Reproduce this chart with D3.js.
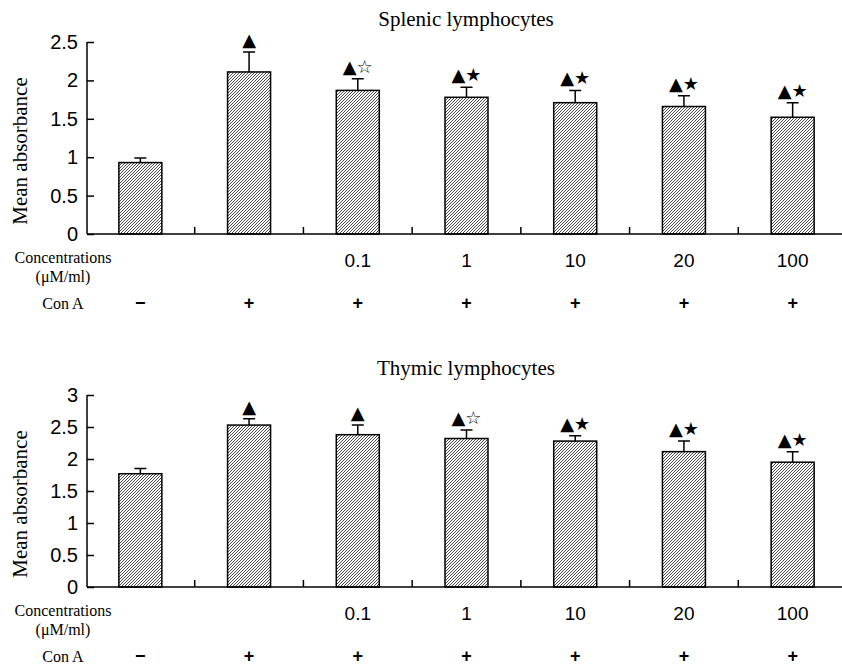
<!DOCTYPE html>
<html>
<head>
<meta charset="utf-8">
<title>Lymphocyte proliferation</title>
<style>
  body { margin: 0; background: #fff; }
  .serif { font-family: "Liberation Serif", "DejaVu Serif", serif; }
  .sans { font-family: "Liberation Sans", Arial, sans-serif; }
  .sym { font-family: "DejaVu Sans", sans-serif; }
</style>
</head>
<body>
<script src="https://cdn.jsdelivr.net/npm/d3@7"></script>
<script>
// ---- data ----
var groups = ["ctrl", "conA", "c0.1", "c1", "c10", "c20", "c100"];
var concLabels = ["", "", "0.1", "1", "10", "20", "100"];
var conALabels = ["\u2212", "+", "+", "+", "+", "+", "+"];

var splenicMeans = [0.93, 2.11, 1.87, 1.78, 1.71, 1.66, 1.52];
var splenicErr   = [0.06, 0.26, 0.15, 0.13, 0.16, 0.14, 0.19];
var splenicSig   = ["", "\u25B2", "\u25B2\u2606", "\u25B2\u2605", "\u25B2\u2605", "\u25B2\u2605", "\u25B2\u2605"];
var splenicTicks = [0, 0.5, 1, 1.5, 2, 2.5];

var thymicMeans = [1.77, 2.53, 2.38, 2.32, 2.28, 2.115, 1.95];
var thymicErr   = [0.08, 0.10, 0.15, 0.135, 0.085, 0.165, 0.165];
var thymicSig   = ["", "\u25B2", "\u25B2", "\u25B2\u2606", "\u25B2\u2605", "\u25B2\u2605", "\u25B2\u2605"];
var thymicTicks = [0, 0.5, 1, 1.5, 2, 2.5, 3];

var W = 842, H = 667;
var svg = d3.select("body").append("svg").attr("width", W).attr("height", H);

// hatch pattern, fine diagonal lines
svg.append("defs").append("pattern")
  .attr("id", "hatch")
  .attr("patternUnits", "userSpaceOnUse")
  .attr("width", 3).attr("height", 3)
  .append("path")
  .attr("d", "M-1,1 l2,-2 M0,3 l3,-3 M2,4 l2,-2")
  .attr("stroke", "#1a1a1a")
  .attr("stroke-width", 0.8);

var x = d3.scaleBand().domain(groups).range([86, 847]);
var barW = 43;

function panel(title, means, errs, sigs, ticks, y0, titleY) {
  var g = svg.append("g");
  var y = d3.scaleLinear().domain([0, d3.max(ticks)]).range([y0, y0 - 192]);
  var cx = function(i) { return x(groups[i]) + x.bandwidth() / 2; };

  g.append("text").attr("class", "serif")
    .attr("x", 466).attr("y", titleY)
    .attr("text-anchor", "middle").attr("font-size", 21)
    .text(title);

  // y axis
  var yAxis = d3.axisRight(y).tickValues(ticks).tickSize(7).tickFormat("");
  var ya = g.append("g").attr("transform", "translate(87,0)").call(yAxis);
  ya.select(".domain").remove();
  ya.selectAll("line").attr("stroke", "#000").attr("stroke-width", 1.5);
  g.append("line").attr("x1", 87).attr("x2", 87)
    .attr("y1", y(0)).attr("y2", y(d3.max(ticks)))
    .attr("stroke", "#000").attr("stroke-width", 1.5);
  g.selectAll(".ylab").data(ticks).enter().append("text")
    .attr("class", "sans ylab")
    .attr("x", 78).attr("y", function(d) { return y(d) + 7; })
    .attr("text-anchor", "end").attr("font-size", 20)
    .text(function(d) { return d; });

  g.append("text").attr("class", "serif")
    .attr("transform", "translate(27," + (y0 - 83) + ") rotate(-90)")
    .attr("text-anchor", "middle").attr("font-size", 21)
    .text("Mean absorbance");

  // bars
  g.selectAll(".bar").data(means).enter().append("rect")
    .attr("x", function(d, i) { return cx(i) - barW / 2; })
    .attr("y", function(d) { return y(d); })
    .attr("width", barW)
    .attr("height", function(d) { return y0 - y(d); })
    .attr("fill", "url(#hatch)")
    .attr("stroke", "#000").attr("stroke-width", 1.5);

  // error bars (upper only)
  g.selectAll(".err").data(means).enter().append("path")
    .attr("d", function(d, i) {
      var top = y(d + errs[i]);
      return "M" + cx(i) + "," + y(d) + "V" + top + "M" + (cx(i) - 6) + "," + top + "H" + (cx(i) + 6);
    })
    .attr("stroke", "#000").attr("stroke-width", 1.5).attr("fill", "none");

  // significance marks
  g.selectAll(".sig").data(sigs).enter().append("text")
    .attr("class", "sym")
    .attr("x", function(d, i) { return cx(i); })
    .attr("y", function(d, i) { return y(means[i] + errs[i]) - 6; })
    .attr("text-anchor", "middle").attr("font-size", 18)
    .text(function(d) { return d; });

  // x axis line and boundary ticks
  g.append("line").attr("x1", 87).attr("x2", W)
    .attr("y1", y0).attr("y2", y0)
    .attr("stroke", "#000").attr("stroke-width", 1.5);
  g.selectAll(".xt").data(groups.slice(1)).enter().append("line")
    .attr("x1", function(d) { return x(d); }).attr("x2", function(d) { return x(d); })
    .attr("y1", y0).attr("y2", y0 - 7)
    .attr("stroke", "#000").attr("stroke-width", 1.5);

  // rows below
  g.append("text").attr("class", "serif").attr("x", 63).attr("y", y0 + 29)
    .attr("text-anchor", "middle").attr("font-size", 16).text("Concentrations");
  g.append("text").attr("class", "serif").attr("x", 63).attr("y", y0 + 48)
    .attr("text-anchor", "middle").attr("font-size", 16).text("(\u03BCM/ml)");
  g.selectAll(".conc").data(concLabels).enter().append("text")
    .attr("class", "sans")
    .attr("x", function(d, i) { return cx(i); }).attr("y", y0 + 33)
    .attr("text-anchor", "middle").attr("font-size", 19)
    .text(function(d) { return d; });

  g.append("text").attr("class", "serif").attr("x", 63).attr("y", y0 + 75)
    .attr("text-anchor", "middle").attr("font-size", 16).text("Con A");
  g.selectAll(".cona").data(conALabels).enter().append("text")
    .attr("class", "sans")
    .attr("x", function(d, i) { return cx(i); }).attr("y", y0 + 75)
    .attr("text-anchor", "middle").attr("font-size", 18).attr("font-weight", "bold")
    .text(function(d) { return d; });
}

panel("Splenic lymphocytes", splenicMeans, splenicErr, splenicSig, splenicTicks, 234, 26);
panel("Thymic lymphocytes", thymicMeans, thymicErr, thymicSig, thymicTicks, 587, 375);
</script>
</body>
</html>
